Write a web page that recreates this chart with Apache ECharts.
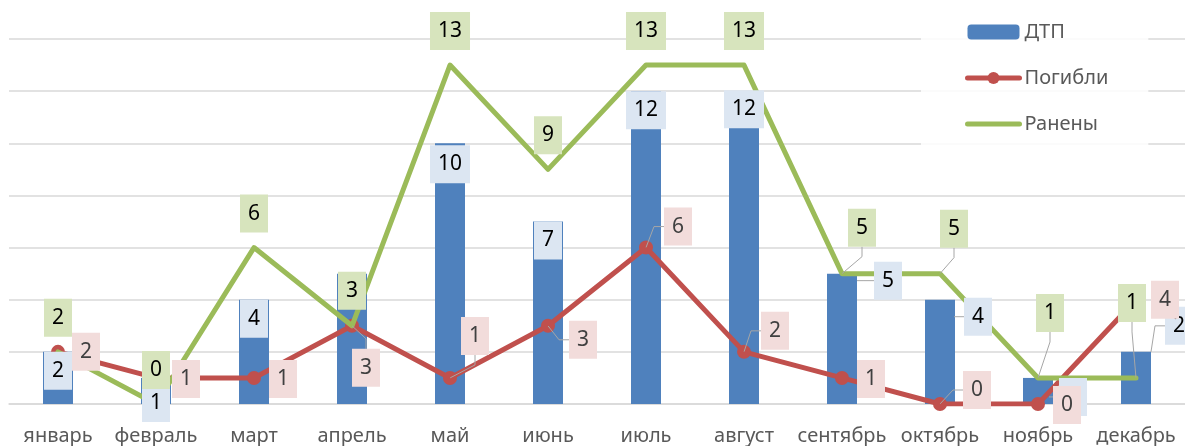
<!DOCTYPE html>
<html>
<head>
<meta charset="utf-8">
<script src="https://cdn.jsdelivr.net/npm/echarts@6/dist/echarts.min.js"></script>
<style>
html,body{margin:0;padding:0;background:#fff;}
#chart{width:1185px;height:446px;}
</style>
</head>
<body>
<div id="chart"></div>
<script>
// ---- data ----
const categories = ['январь','февраль','март','апрель','май','июнь','июль','август','сентябрь','октябрь','ноябрь','декабрь'];
const dtp      = [2, 1, 4, 5, 10, 7, 12, 12, 5, 4, 1, 2];
const deaths   = [2, 1, 1, 3, 1, 3, 6, 2, 1, 0, 0, 4];
const injured  = [2, 0, 6, 3, 13, 9, 13, 13, 5, 5, 1, 1];
const seriesNames = ['ДТП', 'Погибли', 'Ранены'];

// ---- label placement (pixel shifts, not data) ----
const injuredShift = [[0,-34],[0,-34],[0,-34],[0,-35],[0,-34],[0,-34],[0,-34],[0,-34],[20,-46],[14,-45],[12,-65],[-4,-75]];
const injuredLeader = [false,false,false,false,false,false,false,false,true,true,true,true];
const deathsShift  = [[28,0],[30,1],[29,1],[14,42],[25,-42],[35,14],[32,-21],[31,-21],[29,1],[37,-14],[29,1],[29,0]];
const deathsLeader = [false,false,false,true,true,true,true,true,false,true,false,false];
// bar labels: shift relative to a box sitting on the bar top
const dtpShift  = [[0,38],[0,44],[0,38],null,[0,40],[0,38],[0,38],[0,37],[46,26],[38,36],[35,38],[43,-7]];
const dtpLeader = [false,false,false,false,false,false,false,false,true,true,true,true];

const FONT = 'Noto Sans';
const leaderStyle = {color:'#a6a6a6', width:1};

function labelItems(values, leaders, hidden){
  return values.map((v,i)=>{
    const it = {value: v, labelLine: {show: leaders[i], length2: 10, lineStyle: leaderStyle}};
    if (hidden && hidden[i] == null) it.label = {show:false};
    return it;
  });
}
function shiftFn(shifts){
  return function(p){ const s = shifts[p.dataIndex] || [0,0]; return {dx: s[0], dy: s[1]}; };
}

const baseLabel = {
  show: true,
  fontFamily: FONT,
  fontSize: 21,
  lineHeight: 20,
  padding: [9, 8, 9, 8]
};

const chart = echarts.init(document.getElementById('chart'), null, {renderer:'canvas'});
chart.setOption({
  animation: false,
  backgroundColor: '#ffffff',
  grid: {left: 9, top: 39, width: 1180, bottom: 42, containLabel: false},
  legend: {
    orient: 'vertical',
    left: 921, top: 0,
    padding: [22, 40, 14, 44],
    backgroundColor: 'rgba(255,255,255,0.85)',
    itemWidth: 52, itemHeight: 15, itemGap: 26,
    textStyle: {color:'#595959', fontSize: 20, fontFamily: FONT},
    data: [
      {name:'ДТП'},
      {name:'Погибли', lineStyle:{width:5, cap:'round'}},
      {name:'Ранены', itemStyle:{opacity:0}, lineStyle:{width:5, cap:'round'}}
    ]
  },
  xAxis: {
    type: 'category',
    data: categories,
    axisTick: {show:false},
    axisLine: {lineStyle:{color:'#d9d9d9', width:1.5}},
    axisLabel: {color:'#595959', fontSize: 20, fontFamily: FONT, margin: 22, interval: 0}
  },
  yAxis: {
    type: 'value', min: 0, max: 14, interval: 2,
    axisLabel: {show:false}, axisLine:{show:false}, axisTick:{show:false},
    splitLine: {lineStyle:{color:'#d9d9d9', width:1.5}}
  },
  series: [
    // visible marks
    {
      name: seriesNames[0], type: 'bar', z: 2,
      barWidth: 30, barGap: '-100%',
      itemStyle: {color:'#4f81bd'},
      data: dtp
    },
    {
      name: seriesNames[1], type: 'line', z: 3,
      symbol: 'circle', symbolSize: 14, showAllSymbol: true,
      lineStyle: {color:'#c0504d', width: 5, cap:'round', join:'round'},
      itemStyle: {color:'#c0504d'},
      data: deaths
    },
    {
      name: seriesNames[2], type: 'line', z: 4,
      symbol: 'none',
      lineStyle: {color:'#9bbb59', width: 5, cap:'round', join:'round'},
      itemStyle: {color:'#9bbb59'},
      data: injured
    },
    // data labels, drawn above all marks
    {
      name: seriesNames[0] + ' подписи', type: 'bar', z: 10, silent: true,
      barWidth: 30, barGap: '-100%',
      itemStyle: {color:'rgba(0,0,0,0)'},
      label: Object.assign({}, baseLabel, {position:'top', distance:0, color:'#000', backgroundColor:'#dce6f2'}),
      labelLayout: shiftFn(dtpShift),
      data: labelItems(dtp, dtpLeader, dtpShift)
    },
    {
      name: seriesNames[1] + ' подписи', type: 'line', z: 11, silent: true,
      symbol: 'circle', symbolSize: 0.5, showAllSymbol: true,
      lineStyle: {width: 0, opacity: 0},
      itemStyle: {color:'#c0504d', opacity: 0},
      label: Object.assign({}, baseLabel, {position:'inside', color:'#404040', backgroundColor:'#f2dcdb', opacity: 1}),
      labelLayout: shiftFn(deathsShift),
      data: labelItems(deaths, deathsLeader)
    },
    {
      name: seriesNames[2] + ' подписи', type: 'line', z: 12, silent: true,
      symbol: 'circle', symbolSize: 0.5, showAllSymbol: true,
      lineStyle: {width: 0, opacity: 0},
      itemStyle: {color:'#9bbb59', opacity: 0},
      label: Object.assign({}, baseLabel, {position:'inside', color:'#000', backgroundColor:'#d7e4bd', opacity: 1}),
      labelLayout: shiftFn(injuredShift),
      data: labelItems(injured, injuredLeader)
    }
  ]
});
</script>
</body>
</html>
